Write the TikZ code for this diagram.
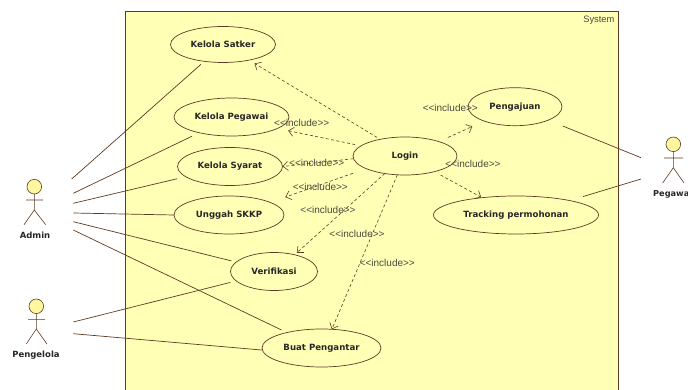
\documentclass[tikz,border=0pt]{standalone}
\usepackage{fontspec}
\setmainfont{DejaVu Sans}
\newfontfamily\inclfont{Liberation Sans}
\usetikzlibrary{shapes.geometric,arrows.meta}
\definecolor{linebrown}{HTML}{5E3A22}
\definecolor{sysfill}{HTML}{FFFFB6}
\definecolor{headfill}{HTML}{FFF7A0}
\definecolor{inclgrey}{HTML}{4A4A40}
\tikzset{
  usecase/.style={ellipse,draw=linebrown,fill=sysfill,line width=0.7pt,inner sep=0pt,outer sep=0pt,font=\bfseries\fontsize{8.6}{10}\selectfont,text=black!85},
  assoc/.style={draw=linebrown,line width=0.7pt},
  incl/.style={draw=linebrown,line width=0.6pt,dash pattern=on 3pt off 2.4pt,-{Straight Barb[length=5pt,width=9pt,line width=0.6pt]}},
  incltext/.style={font=\inclfont\fontsize{10}{12}\selectfont,text=inclgrey,inner sep=0pt},
  actortext/.style={font=\bfseries\fontsize{8.5}{10}\selectfont,text=black!85,inner sep=0pt},
  actorhead/.style={circle,draw=linebrown,fill=headfill,line width=0.6pt,minimum size=14.6pt,inner sep=0pt,outer sep=0pt},
  stick/.style={draw=linebrown,line width=0.6pt}
}
\begin{document}
\begin{tikzpicture}[x=1pt,y=-1pt]
\useasboundingbox (0,0) rectangle (688,390);
% system frame
\fill[sysfill] (125.5,11) rectangle (618.7,390);
\draw[draw=linebrown,line width=0.8pt] (125.5,390) -- (125.5,11) -- (618.7,11) -- (618.7,390);
\node[anchor=east,font=\inclfont\fontsize{9.3}{11}\selectfont,text=inclgrey,inner sep=0pt] (systemlabel) at (614.5,20) {System};
% use cases
\node[usecase,minimum width=105pt,minimum height=36pt] (satker) at (223,44.5) {Kelola Satker};
\node[usecase,minimum width=115pt,minimum height=38pt] (pegawaiuc) at (231.5,117) {Kelola Pegawai};
\node[usecase,minimum width=105pt,minimum height=38pt] (syarat) at (230,166.5) {Kelola Syarat};
\node[usecase,minimum width=110pt,minimum height=38pt] (unggah) at (229,215) {Unggah SKKP};
\node[usecase,minimum width=87pt,minimum height=38pt] (verif) at (274,271.5) {Verifikasi};
\node[usecase,minimum width=119pt,minimum height=38pt] (buat) at (321.5,348) {Buat Pengantar};
\node[usecase,minimum width=104pt,minimum height=38pt] (login) at (405,156) {Login};
\node[usecase,minimum width=94pt,minimum height=38pt] (ajuan) at (515,106.7) {Pengajuan};
\node[usecase,minimum width=165pt,minimum height=38pt] (track) at (516,215) {Tracking permohonan};
% actors
\node[actorhead] (adminhead) at (34.3,186.7) {};
\draw[stick] (adminhead.south) -- (34.3,210) -- (24,224.7) (34.3,210) -- (45.7,224.7) (26,200) -- (43,200);
\node[actortext] (adminlabel) at (35,235.7) {Admin};
\node[actorhead] (pengelolahead) at (36.3,306.3) {};
\draw[stick] (pengelolahead.south) -- (36.3,329) -- (26.3,344) (36.3,329) -- (47,344) (28,319.3) -- (45,319.3);
\node[actortext] (pengelolalabel) at (36,355) {Pengelola};
\node[actorhead] (pegawaihead) at (673.3,144.3) {};
\draw[stick] (pegawaihead.south) -- (673.3,167.7) -- (662.7,183) (673.3,167.7) -- (684,183) (664,158) -- (683,158);
\node[actortext,anchor=west,font=\bfseries\fontsize{8.2}{10}\selectfont] (pegawailabel) at (653,194) {Pegawa};
% free ends near the actors
\coordinate (a1) at (71.7,179);
\coordinate (a2) at (73.3,193.3);
\coordinate (a3) at (73.3,203.3);
\coordinate (a4) at (73.3,213);
\coordinate (a5) at (73.3,221.7);
\coordinate (a6) at (73.3,230);
\coordinate (p1) at (73.3,322);
\coordinate (p2) at (73.3,333.7);
\coordinate (g1) at (641,157.7);
\coordinate (g2) at (641,179);
% associations
\draw[assoc,shorten >=4.5pt] (a1) -- (satker.222);
\draw[assoc,shorten >=8pt] (a2) -- (pegawaiuc.206);
\draw[assoc,shorten >=9pt] (a3) -- (syarat.193.4);
\draw[assoc] (a4) -- (unggah.west);
\draw[assoc,shorten >=5pt] (a5) -- (verif.166.6);
\draw[assoc,shorten >=6pt] (a6) -- (buat.156);
\draw[assoc,shorten >=6pt] (p1) -- (verif.194.3);
\draw[assoc] (p2) -- (buat.182);
\draw[assoc,shorten >=15.6pt] (g1) -- (ajuan.338);
\draw[assoc,shorten >=14pt] (g2) -- (track.15.2);
% includes
\draw[incl,shorten <=3.7pt,shorten >=6.4pt] (login.146.6) -- (satker.329.6);
\draw[incl,shorten <=6pt,shorten >=11pt] (login.167.8) -- (pegawaiuc.346.7);
\draw[incl] (login.183) -- (syarat.east);
\draw[incl,shorten <=14pt,shorten >=16pt] (login.198.5) -- (unggah.17.5);
\draw[incl,shorten >=3pt] (login.221) -- (verif.39.6);
\draw[incl] (login.248) -- (buat.61.4);
\draw[incl,shorten <=10pt,shorten >=13pt] (login.23.6) -- (ajuan.205);
\draw[incl,shorten <=7pt,shorten >=1pt] (login.332.2) -- (track.153.2);
% include labels
\node[incltext] (i1) at (301.7,122.7) {<<include>>};
\node[incltext] (i2) at (316.7,163.3) {<<include>>};
\node[incltext] (i3) at (320.3,187.3) {<<include>>};
\node[incltext] (i4) at (328,210.3) {<<include>>};
\node[incltext] (i5) at (357,233.7) {<<include>>};
\node[incltext] (i6) at (387.3,262.7) {<<include>>};
\node[incltext] (i7) at (450.3,108.3) {<<include>>};
\node[incltext] (i8) at (473,163.7) {<<include>>};
\end{tikzpicture}
\end{document}
